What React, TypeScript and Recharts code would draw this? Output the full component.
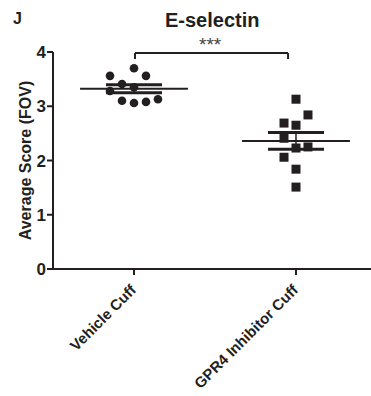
import React from "react";
import { ScatterChart, Scatter, XAxis, YAxis, ReferenceLine } from "recharts";

const categories = ["Vehicle Cuff", "GPR4 Inhibitor Cuff"];
const vehicleValues = [3.70, 3.56, 3.56, 3.41, 3.35, 3.28, 3.10, 3.06, 3.08, 3.13];
const vehicleCols = [0, -2, 1, -1, 0, -2, -1, 0, 1, 2];
const gpr4Values = [3.13, 2.84, 2.69, 2.65, 2.41, 2.23, 2.25, 2.06, 1.84, 1.51];
const gpr4Cols = [0, 1, -1, 0, -1, 0, 1, -1, 0, 0];
const yTicks = [0, 1, 2, 3, 4];

const JITTER = 0.074;
const MEAN_HALF = 0.333;
const SEM_HALF = 0.173;
const INK = "#231f20";
const FONT = "Arial, 'Liberation Sans', Helvetica, sans-serif";

const toPoints = (vals: number[], cols: number[], group: number) =>
  vals.map((v, i) => ({ x: group + cols[i] * JITTER, y: v }));

const stats = (vals: number[]) => {
  const n = vals.length;
  const mean = vals.reduce((a, b) => a + b, 0) / n;
  const sd = Math.sqrt(vals.reduce((a, b) => a + (b - mean) ** 2, 0) / (n - 1));
  return { mean, sem: sd / Math.sqrt(n) };
};

const vehiclePts = toPoints(vehicleValues, vehicleCols, 1);
const gpr4Pts = toPoints(gpr4Values, gpr4Cols, 2);
const groups = [stats(vehicleValues), stats(gpr4Values)];

const XTick = (props: any) => {
  const { x, y, payload } = props;
  const ax = x + 3;
  const ay = y + 14;
  return (
    <text
      x={ax}
      y={ay}
      transform={`rotate(-45 ${ax} ${ay})`}
      textAnchor="end"
      fontFamily={FONT}
      fontWeight="bold"
      fontSize={15}
      fill={INK}
    >
      {categories[payload.value - 1]}
    </text>
  );
};

const YLabel = (props: any) => {
  const vb = props.viewBox || { x: 0, y: 52, width: 53, height: 217 };
  const cx = 25;
  const cy = vb.y + vb.height / 2;
  return (
    <text
      x={cx}
      y={cy}
      transform={`rotate(-90 ${cx} ${cy})`}
      textAnchor="middle"
      dominantBaseline="central"
      fontFamily={FONT}
      fontWeight="bold"
      fontSize={16}
      fill={INK}
    >
      Average Score (FOV)
    </text>
  );
};

export default function App() {
  return (
    <div style={{ position: "absolute", left: 0, top: 0, width: 371, height: 396, background: "#fff", overflow: "hidden" }}>
      <div style={{ position: "absolute", left: 13, top: 11, fontFamily: FONT, fontWeight: "bold", fontSize: 16, lineHeight: 1, color: INK }}>J</div>
      <div style={{ position: "absolute", left: 165, top: 10, fontFamily: FONT, fontWeight: "bold", fontSize: 20, lineHeight: 1, color: INK }}>E-selectin</div>
      <div style={{ position: "absolute", left: 199, top: 35, fontFamily: FONT, fontSize: 19, lineHeight: 1, color: "#444" }}>***</div>
      <ScatterChart width={371} height={396} margin={{ top: 52, right: 0, bottom: 0, left: 0 }}>
        <XAxis
          type="number"
          dataKey="x"
          domain={[0.5, 2.463]}
          ticks={[1, 2]}
          allowDataOverflow
          height={127}
          tickSize={6}
          tick={<XTick />}
          axisLine={{ stroke: INK, strokeWidth: 2 }}
          tickLine={{ stroke: INK, strokeWidth: 2 }}
        />
        <YAxis
          type="number"
          dataKey="y"
          domain={[0, 4]}
          ticks={yTicks}
          width={53}
          tickSize={6}
          tickMargin={1}
          tick={{ fontFamily: FONT, fontWeight: "bold", fontSize: 17, fill: INK }}
          axisLine={{ stroke: INK, strokeWidth: 2 }}
          tickLine={{ stroke: INK, strokeWidth: 2 }}
          label={<YLabel />}
        />
        <Scatter
          data={vehiclePts}
          isAnimationActive={false}
          shape={(p: any) => <circle cx={p.cx} cy={p.cy} r={4.3} fill={INK} />}
        />
        <Scatter
          data={gpr4Pts}
          isAnimationActive={false}
          shape={(p: any) => <rect x={p.cx - 4.5} y={p.cy - 4.5} width={9} height={9} fill={INK} />}
        />
        {groups.map((g, i) => {
          const c = i + 1;
          return (
            <React.Fragment key={i}>
              <ReferenceLine segment={[{ x: c - MEAN_HALF, y: g.mean }, { x: c + MEAN_HALF, y: g.mean }]} stroke={INK} strokeWidth={2} ifOverflow="visible" />
              <ReferenceLine segment={[{ x: c - SEM_HALF, y: g.mean + g.sem }, { x: c + SEM_HALF, y: g.mean + g.sem }]} stroke={INK} strokeWidth={3} ifOverflow="visible" />
              <ReferenceLine segment={[{ x: c - SEM_HALF, y: g.mean - g.sem }, { x: c + SEM_HALF, y: g.mean - g.sem }]} stroke={INK} strokeWidth={3} ifOverflow="visible" />
              <ReferenceLine segment={[{ x: c, y: g.mean - g.sem }, { x: c, y: g.mean + g.sem }]} stroke={INK} strokeWidth={1.5} ifOverflow="visible" />
            </React.Fragment>
          );
        })}
        <ReferenceLine segment={[{ x: 1.006, y: 3.98 }, { x: 1.951, y: 3.98 }]} stroke={INK} strokeWidth={2} ifOverflow="visible" />
        <ReferenceLine segment={[{ x: 1.006, y: 3.98 }, { x: 1.006, y: 3.87 }]} stroke={INK} strokeWidth={2} ifOverflow="visible" />
        <ReferenceLine segment={[{ x: 1.951, y: 3.98 }, { x: 1.951, y: 3.87 }]} stroke={INK} strokeWidth={2} ifOverflow="visible" />
      </ScatterChart>
    </div>
  );
}
